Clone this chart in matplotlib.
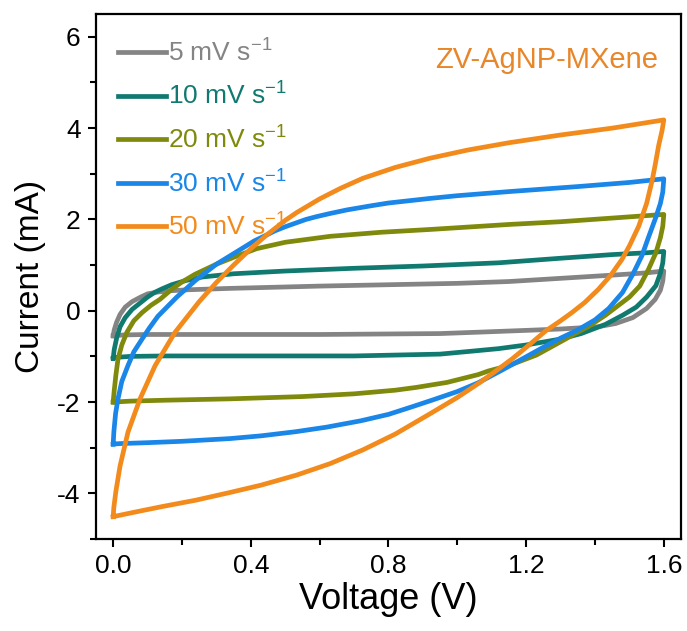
import matplotlib
matplotlib.use("Agg")
import matplotlib.pyplot as plt
from matplotlib.ticker import MultipleLocator

plt.rcParams['font.family'] = ['Liberation Sans', 'DejaVu Sans']
plt.rcParams['mathtext.default'] = 'regular'
plt.rcParams['axes.unicode_minus'] = False

# CV loops: forward sweep (0 -> 1.6 V) and reverse sweep (1.6 -> 0 V)
v5_fwd = [0.0, 0.003, 0.01, 0.02, 0.035, 0.055, 0.08, 0.1, 0.13, 0.17, 0.22, 0.34, 0.6, 0.8, 1.0, 1.15, 1.3, 1.45, 1.55, 1.6]
i5_fwd = [-0.55, -0.42, -0.25, -0.08, 0.08, 0.2, 0.3, 0.37, 0.41, 0.44, 0.46, 0.49, 0.54, 0.57, 0.6, 0.64, 0.71, 0.78, 0.83, 0.87]
v5_rev = [1.6, 1.597, 1.59, 1.575, 1.55, 1.51, 1.46, 1.41, 1.3, 1.2, 1.06, 0.95, 0.6, 0.3, 0.1, 0.03, 0.0]
i5_rev = [0.87, 0.65, 0.45, 0.25, 0.05, -0.15, -0.28, -0.35, -0.4, -0.43, -0.47, -0.5, -0.52, -0.52, -0.52, -0.53, -0.55]

v10_fwd = [0.0, 0.003, 0.01, 0.02, 0.035, 0.055, 0.08, 0.1, 0.12, 0.142, 0.17, 0.21, 0.26, 0.35, 0.5, 0.7, 0.9, 1.12, 1.3, 1.45, 1.55, 1.6]
i10_fwd = [-1.04, -0.85, -0.6, -0.35, -0.15, 0.03, 0.18, 0.3, 0.4, 0.48, 0.57, 0.66, 0.74, 0.81, 0.87, 0.93, 0.98, 1.05, 1.15, 1.23, 1.27, 1.3]
v10_rev = [1.6, 1.597, 1.59, 1.577, 1.55, 1.52, 1.48, 1.43, 1.36, 1.3, 1.2, 1.12, 1.05, 0.95, 0.7, 0.4, 0.15, 0.05, 0.01, 0.0]
i10_rev = [1.3, 1.05, 0.82, 0.55, 0.3, 0.08, -0.1, -0.3, -0.5, -0.62, -0.75, -0.83, -0.88, -0.95, -0.99, -0.99, -0.99, -1.0, -1.02, -1.04]

v20_fwd = [0.0, 0.003, 0.008, 0.014, 0.025, 0.04, 0.06, 0.084, 0.11, 0.136, 0.17, 0.2, 0.238, 0.3, 0.36, 0.417, 0.5, 0.63, 0.78, 0.92, 1.15, 1.3, 1.45, 1.6]
i20_fwd = [-2.0, -1.75, -1.4, -1.06, -0.75, -0.47, -0.22, -0.04, 0.12, 0.25, 0.47, 0.63, 0.8, 1.02, 1.2, 1.36, 1.5, 1.63, 1.72, 1.78, 1.89, 1.95, 2.03, 2.11]
v20_rev = [1.6, 1.597, 1.59, 1.577, 1.555, 1.53, 1.5, 1.465, 1.43, 1.38, 1.35, 1.3, 1.23, 1.15, 1.09, 1.06, 0.97, 0.88, 0.82, 0.7, 0.55, 0.34, 0.15, 0.05, 0.0]
i20_rev = [2.11, 1.85, 1.6, 1.27, 0.9, 0.54, 0.3, 0.1, -0.1, -0.35, -0.47, -0.68, -0.97, -1.2, -1.32, -1.4, -1.57, -1.68, -1.74, -1.82, -1.88, -1.93, -1.96, -1.98, -2.0]

v30_fwd = [0.0, 0.002, 0.007, 0.014, 0.025, 0.043, 0.06, 0.084, 0.105, 0.13, 0.185, 0.24, 0.3, 0.38, 0.41, 0.446, 0.47, 0.5, 0.53, 0.56, 0.59, 0.63, 0.68, 0.75, 0.8, 0.92, 1.0, 1.15, 1.35, 1.5, 1.6]
i30_fwd = [-2.92, -2.65, -2.25, -1.93, -1.55, -1.2, -0.9, -0.62, -0.38, -0.12, 0.3, 0.67, 1.02, 1.39, 1.53, 1.66, 1.75, 1.84, 1.92, 2.0, 2.06, 2.13, 2.21, 2.3, 2.36, 2.46, 2.52, 2.61, 2.72, 2.81, 2.89]
v30_rev = [1.6, 1.597, 1.59, 1.577, 1.555, 1.536, 1.51, 1.48, 1.44, 1.4, 1.35, 1.3, 1.25, 1.19, 1.13, 1.06, 1.0, 0.93, 0.87, 0.8, 0.72, 0.62, 0.53, 0.43, 0.34, 0.2, 0.1, 0.02, 0.0]
i30_rev = [2.89, 2.6, 2.35, 2.05, 1.6, 1.2, 0.8, 0.4, 0.05, -0.2, -0.42, -0.6, -0.8, -1.05, -1.3, -1.58, -1.77, -1.95, -2.1, -2.27, -2.41, -2.55, -2.65, -2.74, -2.8, -2.86, -2.89, -2.91, -2.92]

v50_fwd = [0.0, 0.002, 0.008, 0.02, 0.043, 0.078, 0.122, 0.18, 0.25, 0.3, 0.35, 0.4, 0.446, 0.5, 0.533, 0.6, 0.66, 0.725, 0.82, 0.92, 1.03, 1.15, 1.3, 1.45, 1.6]
i50_fwd = [-4.51, -4.3, -3.95, -3.4, -2.66, -1.93, -1.2, -0.47, 0.2, 0.62, 1.0, 1.36, 1.66, 1.98, 2.15, 2.45, 2.68, 2.9, 3.14, 3.34, 3.52, 3.68, 3.85, 4.0, 4.18]
v50_rev = [1.6, 1.595, 1.585, 1.575, 1.566, 1.55, 1.527, 1.5, 1.478, 1.445, 1.41, 1.37, 1.333, 1.3, 1.257, 1.21, 1.16, 1.11, 1.064, 1.0, 0.92, 0.82, 0.725, 0.63, 0.533, 0.43, 0.34, 0.24, 0.142, 0.07, 0.0]
i50_rev = [4.18, 3.95, 3.62, 3.2, 2.85, 2.35, 1.85, 1.42, 1.12, 0.77, 0.47, 0.18, -0.04, -0.22, -0.44, -0.74, -1.05, -1.33, -1.58, -1.9, -2.26, -2.7, -3.05, -3.35, -3.6, -3.82, -3.98, -4.15, -4.29, -4.4, -4.51]

scan_labels = ['5 mV s$^{-1}$', '10 mV s$^{-1}$', '20 mV s$^{-1}$', '30 mV s$^{-1}$', '50 mV s$^{-1}$']
colors = ['#848484', '#117a70', '#7f8a0c', '#1a86e8', '#f28b1c']

loops = [
    (v5_fwd, i5_fwd, v5_rev, i5_rev),
    (v10_fwd, i10_fwd, v10_rev, i10_rev),
    (v20_fwd, i20_fwd, v20_rev, i20_rev),
    (v30_fwd, i30_fwd, v30_rev, i30_rev),
    (v50_fwd, i50_fwd, v50_rev, i50_rev),
]

fig = plt.figure(figsize=(6.87, 6.31), dpi=100)
ax = fig.add_axes([0.1397, 0.1458, 0.8516, 0.832])

for (vf, cf, vr, cr), lab, col in zip(loops, scan_labels, colors):
    ax.plot(vf + vr, cf + cr, color=col, lw=3.4, label=lab, solid_joinstyle='round')

ax.set_xlim(-0.05, 1.65)
ax.set_ylim(-5, 6.5)
ax.xaxis.set_major_locator(MultipleLocator(0.4))
ax.xaxis.set_minor_locator(MultipleLocator(0.2))
ax.yaxis.set_major_locator(MultipleLocator(2))
ax.yaxis.set_minor_locator(MultipleLocator(1))
ax.xaxis.set_major_formatter(plt.FuncFormatter(lambda x, p: f'{x:.1f}'))
ax.tick_params(which='major', direction='out', length=6, width=1.5, labelsize=19, pad=5)
ax.tick_params(which='minor', direction='out', length=4, width=1.5)
for sp in ax.spines.values():
    sp.set_linewidth(1.6)

ax.set_xlabel('Voltage (V)', fontsize=26, labelpad=3)
ax.set_ylabel('Current (mA)', fontsize=24, labelpad=8)

ax.text(0.961, 0.912, 'ZV-AgNP-MXene', transform=ax.transAxes, ha='right', va='center',
        fontsize=21, color='#e8862a')

ax.legend(loc='upper left', bbox_to_anchor=(0.02, 0.972), frameon=False, fontsize=19,
          handlelength=1.8, handletextpad=0.1, labelspacing=0.62, borderaxespad=0,
          labelcolor='linecolor')

fig.savefig('out.png', dpi=100)
